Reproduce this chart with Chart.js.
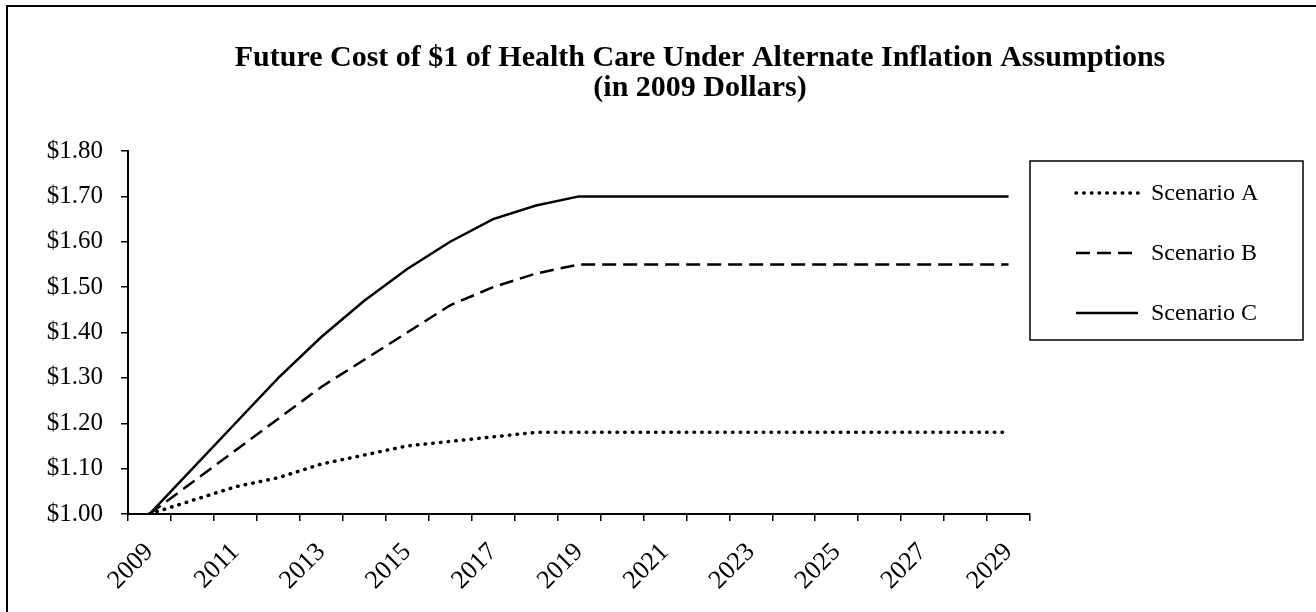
<!DOCTYPE html>
<html>
<head>
<meta charset="utf-8">
<script src="https://cdn.jsdelivr.net/npm/chart.js@4.4.1/dist/chart.umd.min.js"></script>
<style>
  html, body { margin: 0; padding: 0; background: #fff; }
  #wrap { position: relative; width: 1316px; height: 612px; }
</style>
</head>
<body>
<div id="wrap"><canvas id="c" width="1316" height="612"></canvas></div>
<script>
const years = ['2009','2010','2011','2012','2013','2014','2015','2016','2017','2018','2019',
               '2020','2021','2022','2023','2024','2025','2026','2027','2028','2029'];
const scenarioA = [1.00,1.03,1.06,1.08,1.11,1.13,1.15,1.16,1.17,1.18,1.18,
                   1.18,1.18,1.18,1.18,1.18,1.18,1.18,1.18,1.18,1.18];
const scenarioB = [1.00,1.07,1.14,1.21,1.28,1.34,1.40,1.46,1.50,1.53,1.55,
                   1.55,1.55,1.55,1.55,1.55,1.55,1.55,1.55,1.55,1.55];
const scenarioC = [1.00,1.10,1.20,1.30,1.39,1.47,1.54,1.60,1.65,1.68,1.70,
                   1.70,1.70,1.70,1.70,1.70,1.70,1.70,1.70,1.70,1.70];
const seriesNames = ['Scenario A','Scenario B','Scenario C'];
const titleLines = ['Future Cost of $1 of Health Care Under Alternate Inflation Assumptions', '(in 2009 Dollars)'];

const SERIF = '"Liberation Serif", "Times New Roman", serif';

const frame = {
  id: 'frame',
  beforeDraw(chart) {
    const ctx = chart.ctx;
    ctx.save();
    ctx.fillStyle = '#fff';
    ctx.fillRect(0, 0, chart.width, chart.height);
    ctx.fillStyle = '#000';
    ctx.fillRect(6, 5, 2, chart.height - 5);
    ctx.fillRect(6, 5, chart.width - 6, 2);
    ctx.restore();
  }
};

const titleDraw = {
  id: 'titleDraw',
  afterDraw(chart) {
    const ctx = chart.ctx;
    ctx.save();
    ctx.fillStyle = '#000';
    ctx.font = 'bold 30px ' + SERIF;
    ctx.textAlign = 'center';
    ctx.textBaseline = 'alphabetic';
    ctx.fillText(titleLines[0], 700, 66);
    ctx.fillText(titleLines[1], 700, 96);
    ctx.restore();
  }
};

const boxLegend = {
  id: 'boxLegend',
  afterDraw(chart) {
    const ctx = chart.ctx;
    const x0 = 1030, y0 = 161, x1 = 1303, y1 = 340;
    ctx.save();
    ctx.strokeStyle = '#000';
    ctx.lineWidth = 1.5;
    ctx.strokeRect(x0, y0, x1 - x0, y1 - y0);
    const rows = [193, 253, 313];
    chart.data.datasets.forEach((ds, i) => {
      const y = rows[i];
      ctx.beginPath();
      ctx.strokeStyle = ds.borderColor;
      ctx.lineWidth = ds.borderWidth;
      ctx.lineCap = ds.borderCapStyle || 'butt';
      ctx.setLineDash(ds.borderDash || []);
      ctx.moveTo(1076, y);
      ctx.lineTo(1138, y);
      ctx.stroke();
      ctx.setLineDash([]);
      ctx.fillStyle = '#000';
      ctx.font = '24px ' + SERIF;
      ctx.textAlign = 'left';
      ctx.textBaseline = 'middle';
      ctx.fillText(ds.label, 1151, y + 1);
    });
    ctx.restore();
  }
};

new Chart(document.getElementById('c'), {
  type: 'line',
  data: {
    labels: years,
    datasets: [
      { label: seriesNames[0], data: scenarioA, borderColor: '#000', borderWidth: 3.5,
        borderDash: [0.5, 7.2], borderCapStyle: 'round', pointRadius: 0, tension: 0, fill: false },
      { label: seriesNames[1], data: scenarioB, borderColor: '#000', borderWidth: 2.5,
        borderDash: [14, 7], borderCapStyle: 'butt', pointRadius: 0, tension: 0, fill: false },
      { label: seriesNames[2], data: scenarioC, borderColor: '#000', borderWidth: 2.5,
        borderDash: [], pointRadius: 0, tension: 0, fill: false }
    ]
  },
  options: {
    responsive: false,
    animation: false,
    devicePixelRatio: 1,
    layout: { padding: { left: 0, top: 151, right: 0, bottom: 0 } },
    plugins: {
      legend: { display: false },
      tooltip: { enabled: false },
      title: { display: false }
    },
    scales: {
      x: {
        type: 'category',
        offset: true,
        grid: { offset: true, drawOnChartArea: false, drawTicks: true, tickLength: 7, color: '#000', lineWidth: 1.5 },
        border: { display: true, color: '#000', width: 2 },
        ticks: {
          autoSkip: false, maxRotation: 45, minRotation: 45, padding: 16,
          color: '#000', font: { family: SERIF, size: 26 },
          callback: function(v, i) { return i % 2 === 0 ? this.getLabelForValue(v) : ''; }
        },
        afterFit(s) { s.height = 98; }
      },
      y: {
        min: 1.0, max: 1.8,
        grid: { drawOnChartArea: false, drawTicks: true, tickLength: 7, color: '#000', lineWidth: 1.5 },
        border: { display: true, color: '#000', width: 2 },
        ticks: {
          stepSize: 0.1, padding: 18, color: '#000', font: { family: SERIF, size: 25 },
          callback: v => '$' + Number(v).toFixed(2)
        },
        afterFit(s) { s.width = 128; }
      },
      spacer: {
        position: 'right', display: true,
        grid: { display: false, drawTicks: false }, border: { display: false },
        ticks: { display: false },
        afterFit(s) { s.width = 286; }
      }
    }
  },
  plugins: [frame, titleDraw, boxLegend]
});
</script>
</body>
</html>
